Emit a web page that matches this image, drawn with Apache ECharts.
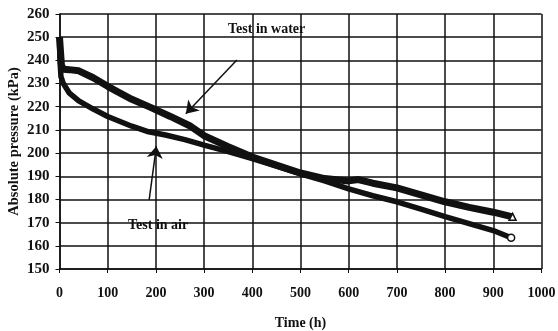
<!DOCTYPE html>
<html>
<head>
<meta charset="utf-8">
<script src="https://cdn.jsdelivr.net/npm/echarts@6/dist/echarts.min.js"></script>
<style>
  html, body { margin: 0; padding: 0; background: #fff; }
  #chart { width: 558px; height: 331px; }
</style>
</head>
<body>
<div id="chart"></div>
<script>
// test in water (upper curve)
const timeWater = [0, 2, 4, 8, 20, 40, 70, 100, 120, 150, 190, 230, 270, 300, 350, 400, 450, 500, 550, 600, 620, 650, 700, 750, 800, 850, 900, 940];
const pressureWater = [250, 244, 238, 236.2, 236, 235.5, 232.5, 228.8, 226.5, 223.2, 219.6, 215.8, 211.8, 207.5, 202.8, 198.3, 194.8, 191.4, 189, 188, 188.6, 187, 185, 182, 179, 176.6, 174.5, 172.5];

// test in air (lower curve)
const timeAir = [0, 1, 3, 8, 20, 40, 70, 100, 150, 185, 220, 260, 300, 350, 400, 450, 500, 550, 600, 650, 700, 750, 800, 850, 900, 937];
const pressureAir = [250, 240, 233, 230, 226, 222.5, 219, 215.8, 211.6, 209.2, 207.8, 205.8, 203.4, 200.6, 197.6, 194.4, 191, 188, 184.6, 181.6, 179, 175.8, 172.6, 169.6, 166.6, 163.5];

const xTicks = [0, 1000, 100];
const yTicks = [150, 260, 10];

const toPoints = (xs, ys, endSymbol) => xs.map((x, i) => {
  if (i === xs.length - 1) {
    return { value: [x, ys[i]], symbol: endSymbol, symbolSize: 7,
      itemStyle: { color: '#fff', borderColor: '#111', borderWidth: 1.5 } };
  }
  return { value: [x, ys[i]], symbol: 'none' };
});

const font = 'Liberation Serif';
const chart = echarts.init(document.getElementById('chart'));
chart.setOption({
  animation: false,
  backgroundColor: '#fff',
  grid: { left: 59.5, right: 16.5, top: 14, bottom: 62, containLabel: false, outerBoundsMode: 'none' },
  xAxis: {
    type: 'value',
    min: xTicks[0], max: xTicks[1], interval: xTicks[2],
    name: 'Time (h)',
    nameLocation: 'middle',
    nameGap: 47,
    nameMoveOverlap: false,
    nameTextStyle: { fontFamily: font, fontSize: 14, color: '#111', fontWeight: 'bold' },
    axisLine: { lineStyle: { color: '#111', width: 1.5 } },
    axisTick: { show: true, length: 4, lineStyle: { color: '#111' } },
    axisLabel: { fontFamily: font, fontSize: 14, color: '#111', fontWeight: 'bold', margin: 17,
      formatter: v => String(v) },
    splitLine: { show: true, lineStyle: { color: '#111', width: 1.5 } }
  },
  yAxis: {
    type: 'value',
    min: yTicks[0], max: yTicks[1], interval: yTicks[2],
    name: 'Absolute pressure (kPa)',
    nameLocation: 'middle',
    nameGap: 38,
    nameMoveOverlap: false,
    nameRotate: 90,
    nameTextStyle: { fontFamily: font, fontSize: 14.5, color: '#111', fontWeight: 'bold' },
    axisLine: { show: true, lineStyle: { color: '#111', width: 1.5 } },
    axisTick: { show: true, length: 4, lineStyle: { color: '#111' } },
    axisLabel: { fontFamily: font, fontSize: 15, color: '#111', fontWeight: 'bold', margin: 10 },
    splitLine: { show: true, lineStyle: { color: '#111', width: 1.5 } }
  },
  series: [
    {
      name: 'Test in water',
      type: 'line',
      data: toPoints(timeWater, pressureWater, 'triangle'),
      showAllSymbol: true,
      lineStyle: { color: '#111', width: 7 },
      itemStyle: { color: '#111' },
      z: 3,
      markLine: {
        silent: true,
        symbol: ['none', 'arrow'],
        symbolSize: 12,
        label: { show: false },
        lineStyle: { color: '#111', width: 1.5, type: 'solid' },
        data: [[{ coord: [368, 240.2] }, { coord: [262, 217] }]]
      }
    },
    {
      name: 'Test in air',
      type: 'line',
      data: toPoints(timeAir, pressureAir, 'circle'),
      showAllSymbol: true,
      lineStyle: { color: '#111', width: 5.5 },
      itemStyle: { color: '#111' },
      z: 4,
      markLine: {
        silent: true,
        symbol: ['none', 'arrow'],
        symbolSize: 12,
        label: { show: false },
        lineStyle: { color: '#111', width: 1.5, type: 'solid' },
        data: [[{ coord: [186, 179.8] }, { coord: [201, 203] }]]
      }
    }
  ],
  graphic: [
    { type: 'text', left: 228, top: 22,
      style: { text: 'Test in water', fontFamily: font, fontSize: 14, fontWeight: 'bold', fill: '#111' } },
    { type: 'text', left: 128, top: 218,
      style: { text: 'Test in air', fontFamily: font, fontSize: 14, fontWeight: 'bold', fill: '#111' } }
  ]
});
</script>
</body>
</html>
